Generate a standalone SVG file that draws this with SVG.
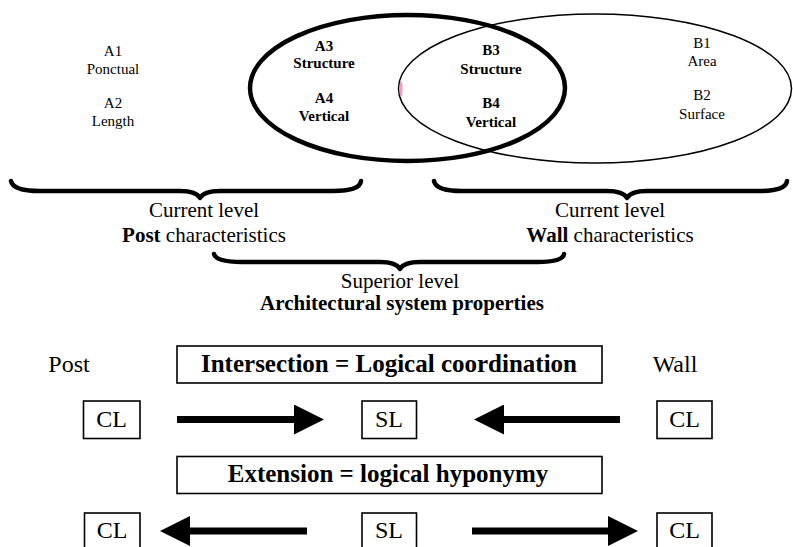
<svg xmlns="http://www.w3.org/2000/svg" width="793" height="547" viewBox="0 0 793 547">
<style>
  text { font-family: "Liberation Serif", "Times New Roman", serif; fill: #000; text-anchor: middle; }
  .s { font-size: 15px; }
  .sb { font-size: 15px; font-weight: bold; }
  .m { font-size: 21px; }
  .b { font-weight: bold; }
  .l { font-size: 24px; }
  .h { font-size: 25px; font-weight: bold; }
  .box { fill: #fff; stroke: #000; stroke-width: 1.6; }
  .brace { fill: none; stroke: #000; stroke-width: 4.5; stroke-linecap: round; stroke-linejoin: round; }
  .arrow { stroke: #000; stroke-width: 7; fill: none; }
</style>
<defs>
  <marker id="head" markerUnits="userSpaceOnUse" viewBox="0 0 30 30" markerWidth="30" markerHeight="30" refX="1" refY="15" orient="auto">
    <polygon points="0,0 30,15 0,30" fill="#000"/>
  </marker>
</defs>

<g id="ellipse-wall">
  <ellipse cx="595" cy="88.5" rx="196.5" ry="74.5" fill="none" stroke="#000" stroke-width="1.5"/>
  <ellipse cx="401" cy="89" rx="1.6" ry="8" fill="#f49ac8"/>
</g>
<g id="ellipse-post">
  <ellipse cx="407.5" cy="88" rx="157.5" ry="73" fill="none" stroke="#000" stroke-width="4.5"/>
</g>

<g id="post-props">
  <text class="s" x="113" y="56">A1</text>
  <text class="s" x="113" y="74">Ponctual</text>
  <text class="s" x="113" y="108">A2</text>
  <text class="s" x="113" y="126">Length</text>
</g>
<g id="post-shared">
  <text class="sb" x="324" y="51">A3</text>
  <text class="sb" x="324" y="68">Structure</text>
  <text class="sb" x="324" y="103">A4</text>
  <text class="sb" x="324" y="121">Vertical</text>
</g>
<g id="wall-shared">
  <text class="sb" x="491" y="55">B3</text>
  <text class="sb" x="491" y="74">Structure</text>
  <text class="sb" x="491" y="108">B4</text>
  <text class="sb" x="491" y="127">Vertical</text>
</g>
<g id="wall-props">
  <text class="s" x="702" y="48">B1</text>
  <text class="s" x="702" y="66">Area</text>
  <text class="s" x="702" y="100">B2</text>
  <text class="s" x="702" y="119">Surface</text>
</g>

<g id="brace-post">
  <path class="brace" d="M11,181 Q13,191 40,191 L180,191 Q196,191 200,198 Q204,191 220,191 L333,191 Q360,191 361,181"/>
  <text class="m" x="204" y="217">Current level</text>
  <text class="m" x="204" y="242"><tspan class="b">Post</tspan> characteristics</text>
</g>
<g id="brace-wall">
  <path class="brace" d="M434,181 Q436,191 462,191 L607,191 Q623,191 627,198 Q631,191 647,191 L759,191 Q786,191 787,181"/>
  <text class="m" x="610" y="217">Current level</text>
  <text class="m" x="610" y="242"><tspan class="b">Wall</tspan> characteristics</text>
</g>
<g id="brace-superior">
  <path class="brace" d="M214,254 Q216,262 242,262 L380,262 Q396,262 400,269 Q404,262 420,262 L537,262 Q563,262 564,254"/>
  <text class="m" x="400" y="288">Superior level</text>
  <text class="m b" x="402" y="310">Architectural system properties</text>
</g>

<g id="label-post"><text class="l" x="69" y="372">Post</text></g>
<g id="label-wall"><text class="l" x="675" y="372">Wall</text></g>

<g id="title-intersection">
  <rect class="box" x="177" y="346" width="425" height="37"/>
  <text class="h" x="389" y="372">Intersection = Logical coordination</text>
</g>
<g id="title-extension">
  <rect class="box" x="177" y="456.5" width="425" height="37"/>
  <text class="h" x="388" y="482">Extension = logical hyponymy</text>
</g>

<g id="cl-post-1">
  <rect class="box" x="83.5" y="401" width="56.5" height="37.5"/>
  <text class="l" x="111.5" y="427">CL</text>
</g>
<g id="sl-1">
  <rect class="box" x="362" y="401" width="54.5" height="37.5"/>
  <text class="l" x="389" y="427">SL</text>
</g>
<g id="cl-wall-1">
  <rect class="box" x="657" y="401" width="55" height="37.5"/>
  <text class="l" x="684.5" y="427">CL</text>
</g>
<g id="cl-post-2">
  <rect class="box" x="84.5" y="513" width="55.5" height="40"/>
  <text class="l" x="112" y="538">CL</text>
</g>
<g id="sl-2">
  <rect class="box" x="362" y="513" width="54.5" height="40"/>
  <text class="l" x="389" y="538">SL</text>
</g>
<g id="cl-wall-2">
  <rect class="box" x="657" y="513" width="55" height="40"/>
  <text class="l" x="684.5" y="538">CL</text>
</g>

<g id="connectors">
  <line class="arrow" x1="177" y1="419.5" x2="295" y2="419.5" marker-end="url(#head)"/>
  <line class="arrow" x1="620" y1="419.5" x2="503" y2="419.5" marker-end="url(#head)"/>
  <line class="arrow" x1="307" y1="531" x2="189" y2="531" marker-end="url(#head)"/>
  <line class="arrow" x1="472" y1="531" x2="609" y2="531" marker-end="url(#head)"/>
</g>
</svg>
